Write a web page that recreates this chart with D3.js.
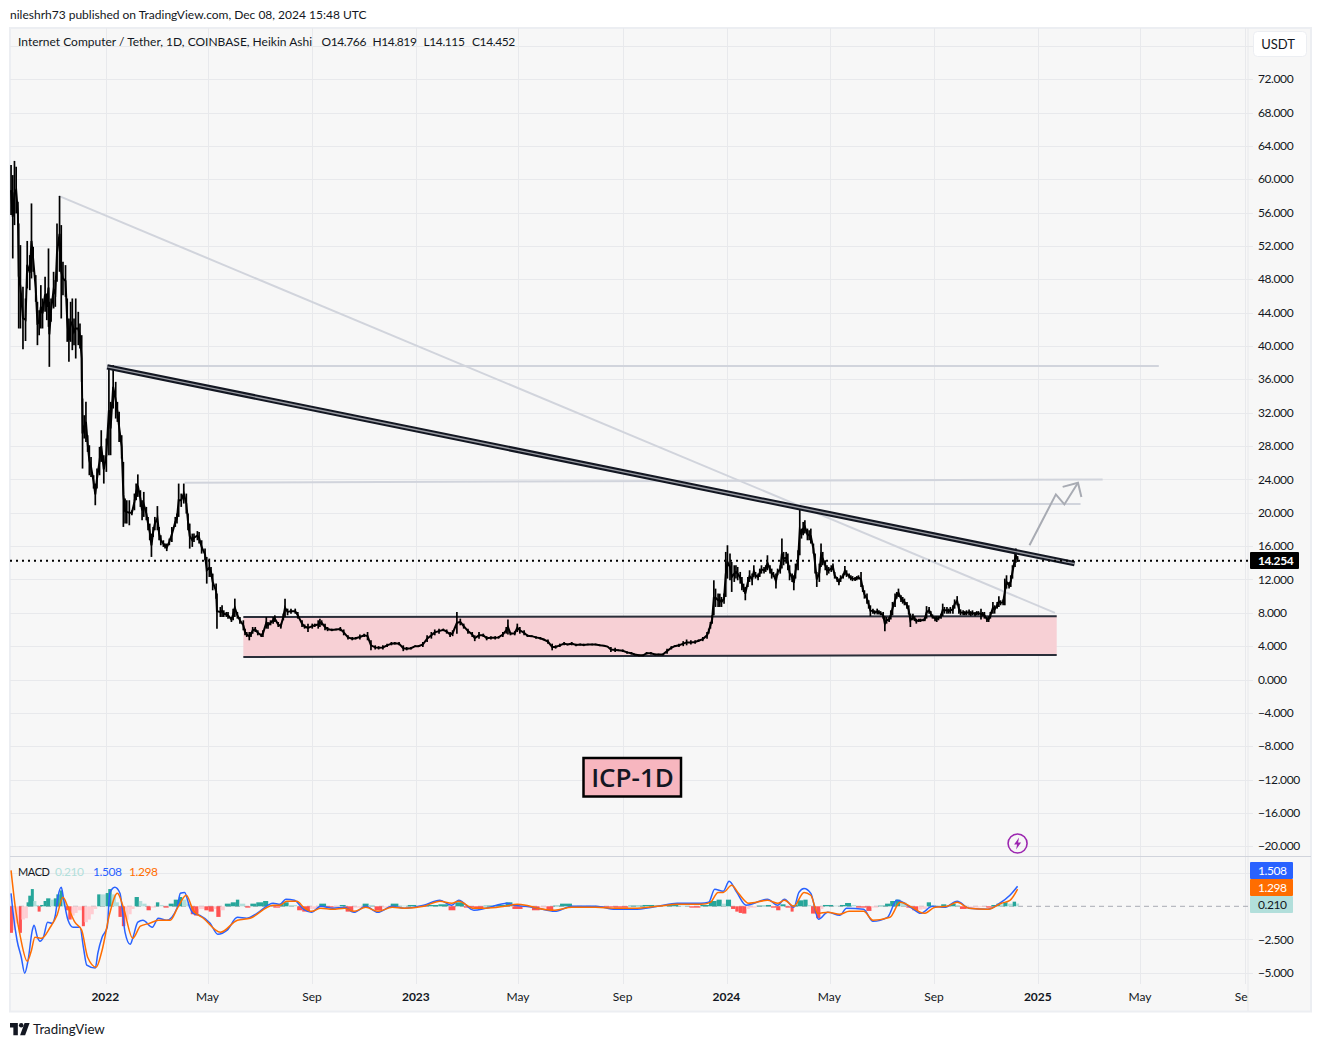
<!DOCTYPE html>
<html>
<head>
<meta charset="utf-8">
<title>ICP-1D</title>
<script src="https://cdn.jsdelivr.net/npm/d3@7"></script>
<style>
    html, body { margin: 0; padding: 0; background: #fff; }
    svg { display: block; }
    text { font-family: Lato, "Noto Sans", sans-serif; fill: #131722; }
    .num { letter-spacing: -0.4px; }
</style>
</head>
<body>
<div id="chart"></div>
<script>
    var width = 1321,
        height = 1047;

    // bars, days counted from barStart
    var barStart = '2021-09-12';
    var barDays = [
        0,2,4,6,8,9,11,14,17,19,22,24,26,29,31,33,35,37,40,42,
        44,45,47,50,52,54,57,59,61,64,66,68,70,72,74,76,79,81,83,84,
        86,88,90,92,94,97,99,101,104,106,109,112,115,117,120,123,125,127,130,132,
        134,136,139,142,145,147,149,152,154,156,159,161,163,165,167,169,172,174,176,179,
        181,183,186,189,193,195,197,200,203,206,208,210,213,215,219,221,224,228,230,233,
        235,237,241,242,246,248,250,253,255,259,261,263,266,269,273,275,277,280,282,284,
        287,290,294,296,300,302,305,308,310,314,317,320,322,325,329,334,337,342,345,349,
        354,357,361,363,365,369,372,377,382,387,391,396,401,405,410,415,419,423,428,432,
        437,442,447,451,456,461,465,470,475,479,484,489,494,498,503,508,512,516,519,524,
        528,532,537,542,545,550,555,559,564,569,573,578,582,584,587,592,595,598,603,607,
        612,617,622,626,631,636,640,645,650,654,659,664,669,673,678,683,687,692,697,701,
        705,710,714,719,724,729,733,738,743,747,752,757,761,766,771,776,780,785,790,794,
        799,804,808,813,818,820,822,824,826,828,831,833,835,838,840,842,845,847,850,852,
        854,857,859,861,863,866,868,871,873,875,878,880,882,885,887,889,892,894,896,899,
        901,904,906,908,911,913,915,918,920,922,925,927,929,931,933,936,938,940,943,945,
        947,950,952,954,957,959,961,964,966,968,971,973,975,978,980,982,985,987,989,992,
        994,996,999,1001,1003,1006,1008,1010,1013,1015,1018,1020,1022,1025,1027,1029,1032,1034,1036,1039,
        1041,1043,1046,1048,1050,1053,1055,1057,1060,1062,1064,1067,1069,1072,1074,1076,1079,1081,1083,1086,
        1088,1090,1093,1095,1097,1100,1102,1104,1107,1109,1112,1114,1116,1119,1121,1123,1126,1128,1130,1133,
        1135,1137,1140,1142,1144,1147,1149,1151,1154,1156,1159,1161,1163,1166,1168,1170,1173,1175,1177,1180,
        1181,1183
    ];
    var barHighs = [
        61.7,60.5,62.2,61.5,57.3,54.7,52.1,47.1,45.7,52.6,50.9,57.1,51.9,48.5,45.3,44.3,47.3,45.7,48.3,46.3,
        51.7,45.3,45.7,48.9,47.9,54.7,58.0,54.5,50.1,49.7,45.7,43.3,45.3,45.7,43.3,45.7,44.1,42.7,41.3,33.7,
        31.7,33.3,29.3,28.1,26.7,24.5,23.5,25.3,27.9,29.9,26.9,28.9,37.7,33.3,37.7,35.7,33.3,32.1,29.3,26.1,
        21.7,21.5,21.5,20.3,22.3,23.5,24.6,22.7,21.5,22.5,20.7,19.5,18.7,17.5,18.3,19.5,20.8,18.3,17.3,16.7,
        16.3,16.3,16.9,18.3,19.5,19.9,23.5,22.3,23.5,22.3,19.9,18.7,17.5,17.5,17.8,17.7,16.7,15.7,14.7,14.5,
        13.5,12.7,11.5,10.3,8.7,8.9,8.3,8.1,8.1,7.5,8.5,9.7,8.1,7.5,7.1,6.1,5.7,5.7,5.7,6.3,
        6.3,5.9,5.5,5.9,7.5,6.9,7.1,7.5,7.7,6.9,6.7,7.9,9.7,8.5,8.5,8.5,8.1,7.1,6.6,6.7,
        6.7,6.7,7.1,7.3,7.1,6.7,6.3,6.1,6.1,6.3,6.0,5.3,5.1,5.1,5.4,5.5,5.7,4.7,4.1,4.0,
        4.1,4.3,4.5,4.5,4.5,4.1,3.9,3.9,4.1,4.1,4.5,5.3,5.7,6.0,6.1,6.1,6.0,5.7,5.9,8.1,
        7.3,6.7,6.1,5.7,5.3,5.7,5.5,5.2,5.2,5.2,5.2,5.7,6.3,7.2,5.7,5.8,6.7,6.3,5.9,5.4,
        5.3,5.2,5.1,4.9,4.8,4.3,4.1,4.3,4.5,4.3,4.5,4.3,4.3,4.3,4.3,4.3,4.3,4.2,4.1,4.0,
        3.9,3.8,3.6,3.6,3.4,3.3,3.1,3.0,3.0,3.3,3.3,3.1,3.1,3.1,3.7,4.0,4.1,4.3,4.6,4.8,
        4.7,4.7,4.8,5.1,5.7,6.1,6.9,7.7,11.9,10.9,10.3,10.3,9.9,10.3,15.3,16.1,15.1,14.1,13.7,13.7,
        13.5,12.9,12.3,11.5,11.1,12.3,13.1,12.7,13.7,12.9,12.7,13.3,13.7,13.5,13.7,14.9,13.7,13.3,12.9,12.7,
        13.3,13.7,16.9,15.3,15.3,15.1,13.7,12.7,12.5,13.9,15.5,20.9,18.1,18.9,19.1,18.1,17.9,18.1,16.3,15.1,
        12.9,13.9,16.3,15.3,14.3,13.7,13.5,13.7,13.9,12.9,12.3,12.1,12.5,12.7,13.6,13.1,12.7,12.5,12.4,12.3,
        12.4,12.5,12.9,11.3,10.7,10.3,9.5,8.9,8.5,8.3,8.5,8.3,8.2,8.1,7.6,7.5,7.5,8.3,9.3,10.3,
        10.5,10.9,10.1,9.9,9.7,9.3,8.9,7.9,7.9,7.6,7.3,7.3,7.3,7.3,7.5,8.8,8.7,8.2,7.8,7.6,
        7.6,7.6,7.9,9.1,8.7,8.7,8.5,8.7,8.9,9.6,10.0,9.1,8.4,8.3,8.2,8.3,8.4,8.2,8.3,8.1,
        8.2,8.2,8.5,8.1,8.1,7.5,7.6,8.1,9.3,8.9,9.3,10.0,9.5,9.6,12.1,12.5,11.7,12.5,13.7,15.5,
        15.7,14.8
    ];
    var barLows = [
        55.7,50.5,54.5,55.9,54.7,42.1,42.1,39.6,40.6,46.9,46.7,48.1,48.9,45.3,40.1,41.3,42.1,42.1,44.1,43.1,
        42.3,37.5,42.9,44.5,44.7,47.7,48.9,43.3,46.1,45.9,40.5,38.1,40.5,39.5,40.1,38.5,40.1,39.7,35.7,25.3,
        28.9,28.5,27.3,24.5,24.3,22.9,20.9,22.9,24.5,26.1,23.5,24.9,26.9,26.9,32.5,31.3,30.9,28.5,26.5,18.3,
        18.7,18.7,18.5,19.7,20.3,21.5,21.9,20.7,19.1,19.5,19.1,17.9,16.7,14.7,17.1,17.9,17.9,16.7,16.1,15.9,
        15.7,15.4,16.1,16.5,18.3,18.7,19.5,20.7,21.1,19.9,17.9,15.7,15.9,16.5,16.7,16.3,15.1,14.3,11.5,12.3,
        12.3,10.7,9.7,6.1,7.5,7.5,7.5,7.5,7.3,6.9,7.1,7.5,7.3,6.7,5.9,5.3,5.1,4.7,5.1,5.5,
        5.7,5.3,5.1,5.1,6.1,6.1,6.5,6.7,6.9,6.3,6.1,7.1,7.5,7.7,7.9,7.9,7.3,6.3,6.1,5.7,
        6.1,6.3,6.1,6.3,6.5,5.9,5.8,5.8,5.9,5.8,5.3,4.8,4.7,4.8,4.8,5.1,4.7,3.5,3.6,3.6,
        3.6,3.9,4.1,4.2,4.1,3.4,3.5,3.6,3.9,3.9,3.9,4.5,4.9,5.3,5.5,5.8,5.5,5.1,5.2,5.5,
        6.5,6.1,5.5,5.1,4.6,4.9,5.1,4.7,4.8,4.8,4.9,5.1,5.5,5.4,5.3,5.3,5.7,5.5,5.3,5.1,
        5.1,4.9,4.8,4.7,4.3,3.5,3.7,3.9,4.1,4.1,4.1,4.0,4.1,4.0,4.1,4.1,4.1,4.0,4.0,3.9,
        3.3,3.3,3.4,3.3,3.1,3.0,2.9,2.8,2.8,3.0,3.0,2.9,2.9,2.9,3.1,3.6,3.9,3.9,4.0,4.1,
        4.2,4.3,4.5,4.6,4.9,5.5,6.1,6.7,7.7,8.7,8.7,8.7,8.7,9.1,9.9,12.1,11.9,10.5,11.7,12.1,
        11.9,11.5,10.7,10.5,9.5,11.1,11.7,11.3,12.3,12.1,11.9,12.3,12.7,12.7,12.9,13.1,12.7,12.1,12.3,10.9,
        12.5,12.7,13.3,13.7,13.9,13.1,11.9,11.7,10.7,12.1,13.1,14.9,16.9,17.3,17.5,16.7,16.7,16.3,15.1,12.7,
        11.1,11.7,13.5,13.7,13.1,12.5,12.7,12.9,13.1,12.1,11.7,11.3,11.7,12.1,12.5,12.3,12.1,11.9,11.8,11.8,
        11.9,12.0,11.1,10.5,9.7,9.1,8.5,7.6,7.9,7.8,7.8,7.8,7.7,7.3,5.8,6.7,6.9,7.2,7.7,8.7,
        9.7,9.9,9.3,9.1,8.9,8.5,7.8,6.3,7.1,7.0,6.7,6.9,6.9,7.0,7.0,7.3,7.9,7.6,7.3,7.0,
        6.9,7.1,7.3,7.6,7.9,7.9,7.9,7.9,7.9,8.5,8.9,7.9,7.7,7.7,7.7,7.7,7.7,7.6,7.7,7.6,
        7.7,7.7,7.2,7.6,7.3,6.9,6.9,7.3,7.9,7.9,8.5,8.7,8.9,8.9,8.9,10.9,10.9,11.1,12.1,13.5,
        14.0,14.1
    ];

    var macdDays = [
        0,2,7,12,16,20,25,27,31,34,38,43,48,52,55,59,62,67,73,81,
        85,89,99,102,107,113,116,122,128,134,140,143,149,155,166,173,183,195,199,204,
        210,214,222,234,243,254,266,277,289,308,316,323,333,344,353,364,378,392,403,417,
        431,448,462,485,504,518,526,544,558,583,591,605,619,639,659,687,710,732,760,783,
        811,820,827,837,844,853,864,889,901,909,920,926,932,940,949,960,974,982,1002,1013,
        1030,1041,1059,1069,1083,1097,1112,1126,1148,1162,1174,1183
    ];
    var macdValues = [
        0.98,-0.30,-2.56,-3.84,-5.04,-4.06,-1.80,-1.43,-2.33,-2.63,-2.33,-1.20,-1.28,-0.68,0.68,1.43,0.45,-1.05,-1.58,-1.58,
        -3.08,-4.44,-4.66,-3.53,-2.33,-1.58,0.98,1.43,0.98,-1.96,-2.86,-2.41,-1.20,-1.05,-1.58,-0.90,-1.05,-0.15,0.98,1.05,
        -0.08,-0.53,-0.68,-1.28,-2.11,-1.80,-0.83,-0.90,-0.53,0.23,0.15,0.53,0.45,-0.23,-0.45,0.0,-0.15,-0.08,-0.45,0.0,
        -0.45,0.0,-0.15,0.08,0.45,0.08,0.45,-0.30,-0.15,0.23,0.08,0.0,-0.15,-0.38,0.0,0.0,-0.23,-0.23,0.0,0.23,
        0.23,0.30,1.28,1.13,1.88,1.05,0.08,0.53,0.08,0.53,-0.08,1.05,1.35,0.98,-0.98,-0.45,-0.68,-0.15,-0.23,-1.13,
        -0.83,0.45,-0.15,-0.53,0.0,-0.08,0.38,-0.15,-0.23,0.23,0.83,1.508
    ];
    var signalDays = [
        0,5,11,19,24,28,36,46,54,61,67,75,83,90,100,107,116,125,132,143,
        152,163,173,187,196,206,214,226,246,266,281,308,316,324,336,344,353,364,378,392,
        403,417,431,448,462,485,504,518,526,544,558,580,595,605,619,639,659,687,710,732,
        760,783,811,822,831,837,847,855,867,889,901,909,920,932,940,948,960,974,985,1002,
        1013,1033,1045,1059,1073,1086,1100,1112,1126,1148,1164,1174,1183
    ];
    var signalValues = [
        2.71,-0.08,-2.33,-4.14,-3.31,-2.33,-2.41,-1.58,-0.68,0.68,-0.08,-1.20,-1.80,-3.84,-4.59,-3.31,-0.53,0.98,-0.08,-2.41,
        -1.50,-1.28,-1.05,-1.05,-0.08,0.83,-0.30,-0.90,-1.96,-1.05,-0.90,0.08,0.08,0.38,0.38,-0.08,-0.38,-0.15,-0.23,-0.15,
        -0.38,-0.08,-0.38,-0.08,-0.15,0.0,0.38,0.23,0.38,-0.15,-0.15,0.0,0.15,0.08,-0.15,-0.30,-0.08,-0.08,-0.15,-0.15,
        0.0,0.15,0.15,0.30,1.05,1.05,1.58,0.98,0.23,0.45,0.23,0.45,0.0,1.05,0.83,-0.53,-0.45,-0.60,-0.38,-0.38,
        -1.05,-0.83,0.30,-0.08,-0.53,-0.08,0.0,0.30,-0.15,-0.23,0.23,0.45,1.298
    ];
    var histDays = [
        0,4,7,11,14,18,20,22,25,28,31,33,36,40,43,48,52,55,59,62,
        66,69,73,76,80,85,88,92,95,99,103,107,113,116,120,125,128,132,136,140,
        143,147,152,156,161,166,172,176,181,187,193,199,203,208,213,217,222,229,234,240,
        243,248,253,260,266,270,277,283,290,298,304,310,318,322,328,338,344,353,364,372,
        381,388,395,404,415,422,429,438,448,457,468,478,490,504,516,524,534,546,557,569,
        583,591,603,614,623,631,639,647,661,676,692,710,727,744,758,772,786,799,812,822,
        831,837,842,848,853,857,861,866,870,878,889,895,901,906,912,918,921,926,933,938,
        942,948,953,956,968,976,982,989,995,1007,1013,1021,1029,1035,1041,1047,1054,1061,1068,1073,
        1078,1083,1089,1095,1101,1106,1112,1117,1125,1132,1140,1148,1154,1160,1164,1168,1173,1179,1183
    ];
    var histValues = [
        -2.0,-1.8,-1.3,-2.0,-1.0,-0.9,0.3,0.8,1.3,0.4,0.1,-0.4,0.1,0.4,0.6,0.5,0.6,0.9,1.2,0.5,
        -0.3,-1.0,-0.7,-0.5,-0.3,-1.5,-1.2,-1.0,-0.6,-0.2,0.9,0.9,1.0,1.3,0.9,0.3,-0.8,-1.5,-1.0,-0.6,
        -0.2,0.7,0.4,0.2,-0.3,-0.1,0.3,0.1,-0.1,0.2,0.5,0.7,0.5,0.2,-0.6,-0.7,-0.2,-0.3,-0.4,-0.2,
        -0.8,-0.3,0.2,0.3,0.5,0.2,-0.1,0.2,0.3,0.4,0.1,-0.1,0.2,0.3,0.1,-0.3,-0.4,-0.2,0.2,-0.1,
        -0.1,0.1,-0.4,-0.1,0.2,0.1,-0.3,-0.1,0.2,0.05,0.1,-0.05,0.1,0.15,-0.3,0.3,-0.1,-0.2,0.05,0.1,
        0.3,-0.2,-0.1,-0.3,-0.1,-0.3,0.05,0.2,0.05,0.05,-0.05,-0.1,0.05,0.1,0.1,0.15,0.05,-0.1,0.1,0.4,
        0.5,0.2,0.5,-0.2,-0.4,-0.5,-0.55,-0.2,-0.1,0.05,0.1,-0.1,-0.3,0.15,-0.1,-0.4,0.1,0.45,0.5,0.1,
        -0.55,-0.9,-0.2,0.1,0.05,0.1,0.25,0.1,-0.1,-0.35,-0.1,0.05,0.2,0.4,0.5,0.3,-0.1,-0.3,-0.25,-0.2,
        0.3,0.1,0.05,0.15,0.1,0.2,0.1,-0.2,-0.15,-0.1,-0.05,-0.1,0.1,0.2,0.15,0.3,0.2,0.35,0.21
    ];

    var priceTicks = [72, 68, 64, 60, 56, 52, 48, 44, 40, 36, 32, 28, 24, 20, 16, 12, 8, 4, 0, -4, -8, -12, -16, -20];
    var priceGrid = [76].concat(priceTicks);
    var macdTicks = [-2.5, -5];
    var macdGrid = [2.5, -2.5, -5];
    var timeTicks = ['2022-01-01', '2022-05-01', '2022-09-01', '2023-01-01', '2023-05-01', '2023-09-01',
        '2024-01-01', '2024-05-01', '2024-09-01', '2025-01-01', '2025-05-01', '2025-09-01'];
    var timeLabels = ['2022', 'May', 'Sep', '2023', 'May', 'Sep', '2024', 'May', 'Sep', '2025', 'May', 'Sep'];

    var lastPrice = 14.254;
    var macdLast = 1.508, signalLast = 1.298, histLast = 0.21;
    var ohlcLabels = ['O14.766', 'H14.819', 'L14.115', 'C14.452'];
    var ohlcAt = [321.5, 372.5, 423.5, 472];

    // drawings on the chart
    var resistanceLine = [['2022-01-03', 37.5], ['2025-02-13', 13.9]];
    var fallingLine = [['2021-11-07', 58.0], ['2025-01-21', 8.0]];
    var levelLines = [
        [['2022-01-03', 37.6], ['2025-05-23', 37.6]],
        [['2022-04-04', 23.6], ['2025-03-18', 24.0]],
        [['2024-03-27', 21.05], ['2025-02-20', 21.05]]
    ];
    var zoneCorners = [['2022-06-12', 7.5], ['2025-01-23', 7.6], ['2025-01-23', 2.95], ['2022-06-12', 2.7]];
    var arrowPath = [['2024-12-22', 16.1], ['2025-01-22', 22.2], ['2025-02-01', 21.0], ['2025-02-17', 23.6]];
    var arrowHead = [['2025-01-30', 23.1], ['2025-02-17', 23.6], ['2025-02-21', 21.9]];

    var plotLeft = 10, plotRight = 1248,
        mainTop = 28, mainBottom = 856,
        macdBottom = 985;

    var parseDay = d3.utcParse('%Y-%m-%d');
    var startDay = parseDay(barStart);

    function dayDate(d) {
        return d3.utcDay.offset(startDay, d);
    }

    var x = d3.scaleUtc()
        .domain([parseDay('2022-01-01'), parseDay('2025-01-01')])
        .range([105.5, 1038]);

    var y = d3.scaleLinear().domain([0, 72]).range([679.5, 79.2]);
    var yMacd = d3.scaleLinear().domain([0, -5]).range([906.3, 972.6]);

    var svg = d3.select('#chart')
        .append('svg')
        .attr('width', width)
        .attr('height', height);

    var defs = svg.append('defs');

    defs.append('clipPath')
        .attr('id', 'main-clip')
        .append('rect')
        .attr('x', plotLeft).attr('y', mainTop)
        .attr('width', plotRight - plotLeft).attr('height', mainBottom - mainTop);

    defs.append('clipPath')
        .attr('id', 'macd-clip')
        .append('rect')
        .attr('x', plotLeft).attr('y', mainBottom)
        .attr('width', plotRight - plotLeft).attr('height', macdBottom - mainBottom);

    defs.append('clipPath')
        .attr('id', 'time-clip')
        .append('rect')
        .attr('x', plotLeft).attr('y', macdBottom)
        .attr('width', plotRight - plotLeft).attr('height', 27);

    // panel
    svg.append('rect')
        .attr('x', 10).attr('y', 28)
        .attr('width', 1301).attr('height', 983.5)
        .attr('fill', '#f7f7f7')
        .attr('stroke', '#eceef2')
        .attr('stroke-width', 2);

    // grid
    var grid = svg.append('g').attr('stroke', '#e8e9ec').attr('stroke-width', 1).attr('shape-rendering', 'crispEdges');

    grid.selectAll('.v')
        .data(timeTicks)
        .enter()
        .append('line')
        .attr('x1', function (d) { return Math.round(x(parseDay(d))); })
        .attr('x2', function (d) { return Math.round(x(parseDay(d))); })
        .attr('y1', mainTop)
        .attr('y2', macdBottom - 1);

    grid.selectAll('.h')
        .data(priceGrid)
        .enter()
        .append('line')
        .attr('x1', plotLeft).attr('x2', plotRight + 5)
        .attr('y1', function (d) { return Math.round(y(d)); })
        .attr('y2', function (d) { return Math.round(y(d)); });

    grid.selectAll('.m')
        .data(macdGrid)
        .enter()
        .append('line')
        .attr('x1', plotLeft).attr('x2', plotRight + 5)
        .attr('y1', function (d) { return Math.round(yMacd(d)); })
        .attr('y2', function (d) { return Math.round(yMacd(d)); });

    // pane edges
    svg.append('line')
        .attr('x1', plotRight).attr('x2', plotRight)
        .attr('y1', mainTop).attr('y2', 1011)
        .attr('stroke', '#e8e9ec');

    svg.append('line')
        .attr('x1', plotLeft).attr('x2', 1311)
        .attr('y1', mainBottom + 0.5).attr('y2', mainBottom + 0.5)
        .attr('stroke', '#d1d4dc');

    var main = svg.append('g').attr('clip-path', 'url(#main-clip)');

    function pointX(d) { return x(parseDay(d[0])); }
    function pointY(d) { return y(d[1]); }

    var drawLine = d3.line().x(pointX).y(pointY);

    // pink zone with dark edges
    main.append('path')
        .attr('d', drawLine(zoneCorners) + 'Z')
        .attr('fill', '#f7d0d5');

    main.selectAll('.zone-edge')
        .data([zoneCorners.slice(0, 2), zoneCorners.slice(2, 4)])
        .enter()
        .append('path')
        .attr('d', drawLine)
        .attr('fill', 'none')
        .attr('stroke', '#2a2e39')
        .attr('stroke-width', 2);

    // light drawings
    main.selectAll('.level')
        .data(levelLines.concat([fallingLine]))
        .enter()
        .append('path')
        .attr('d', drawLine)
        .attr('fill', 'none')
        .attr('stroke', '#d1d4dc')
        .attr('stroke-width', 2);

    // price: a line through the bars, then high-low wicks
    var bars = barDays.map(function (d, i) {
        return { date: dayDate(d), high: barHighs[i], low: barLows[i] };
    });

    main.append('path')
        .datum(bars)
        .attr('d', d3.line()
            .x(function (d) { return x(d.date); })
            .y(function (d) { return y((d.high + d.low) / 2); }))
        .attr('fill', 'none')
        .attr('stroke', '#000')
        .attr('stroke-width', 2);

    main.selectAll('.wick')
        .data(bars)
        .enter()
        .append('line')
        .attr('class', 'wick')
        .attr('x1', function (d) { return x(d.date); })
        .attr('x2', function (d) { return x(d.date); })
        .attr('y1', function (d) { return y(d.high); })
        .attr('y2', function (d) { return y(d.low); })
        .attr('stroke', '#000')
        .attr('stroke-width', 1.7);

    // thick resistance: dark line with a light core
    main.append('path')
        .attr('d', drawLine(resistanceLine))
        .attr('stroke', '#131722')
        .attr('stroke-width', 5.5)
        .attr('fill', 'none');
    main.append('path')
        .attr('d', drawLine(resistanceLine))
        .attr('stroke', '#9a9ca3')
        .attr('stroke-width', 1.4)
        .attr('fill', 'none');

    // target arrow
    main.selectAll('.arrow')
        .data([arrowPath, arrowHead])
        .enter()
        .append('path')
        .attr('d', drawLine)
        .attr('fill', 'none')
        .attr('stroke', '#a8abb3')
        .attr('stroke-width', 2);

    // last price line
    main.append('line')
        .attr('x1', plotLeft).attr('x2', plotRight)
        .attr('y1', y(lastPrice)).attr('y2', y(lastPrice))
        .attr('stroke', '#000')
        .attr('stroke-width', 2)
        .attr('stroke-dasharray', '2 4');

    // MACD pane
    var macdPane = svg.append('g').attr('clip-path', 'url(#macd-clip)');

    macdPane.append('line')
        .attr('x1', plotLeft).attr('x2', plotRight)
        .attr('y1', yMacd(0)).attr('y2', yMacd(0))
        .attr('stroke', '#a8abb3')
        .attr('stroke-dasharray', '5 4');

    macdPane.selectAll('.hist')
        .data(histValues)
        .enter()
        .append('rect')
        .attr('x', function (d, i) { return x(dayDate(histDays[i])) - 1.5; })
        .attr('y', function (d) { return yMacd(Math.max(d, 0)); })
        .attr('width', function (d, i) {
            var next = i < histDays.length - 1 ? histDays[i + 1] : histDays[i] + 2;
            return Math.max(3, x(dayDate(next)) - x(dayDate(histDays[i])));
        })
        .attr('height', function (d) { return Math.abs(yMacd(d) - yMacd(0)); })
        .attr('fill', function (d, i) {
            var prev = i > 0 ? histValues[i - 1] : 0;
            if (d >= 0)
                return d > prev ? '#26a69a' : '#b2dfdb';
            else
                return d < prev ? '#ff5252' : '#ffcdd2';
        });

    function macdLine(days, values, color) {
        macdPane.append('path')
            .datum(values)
            .attr('d', d3.line()
                .curve(d3.curveMonotoneX)
                .x(function (d, i) { return x(dayDate(days[i])); })
                .y(function (d) { return yMacd(d); }))
            .attr('fill', 'none')
            .attr('stroke', color)
            .attr('stroke-width', 1.5);
    }

    macdLine(macdDays, macdValues, '#2962ff');
    macdLine(signalDays, signalValues, '#ff6d00');

    // axes
    var priceAxis = d3.axisRight(y)
        .tickValues(priceTicks)
        .tickFormat(d3.format('.3f'))
        .tickSize(0)
        .tickPadding(10);

    svg.append('g')
        .attr('transform', 'translate(' + plotRight + ',-0.2)')
        .call(priceAxis)
        .call(function (g) { g.select('.domain').remove(); })
        .selectAll('text')
        .attr('class', 'num')
        .attr('font-size', 12);

    var macdAxis = d3.axisRight(yMacd)
        .tickValues(macdTicks)
        .tickFormat(d3.format('.3f'))
        .tickSize(0)
        .tickPadding(10);

    svg.append('g')
        .attr('transform', 'translate(' + plotRight + ',-0.2)')
        .call(macdAxis)
        .call(function (g) { g.select('.domain').remove(); })
        .selectAll('text')
        .attr('class', 'num')
        .attr('font-size', 12);

    var timeAxis = d3.axisBottom(x)
        .tickValues(timeTicks.map(parseDay))
        .tickFormat(function (d, i) { return timeLabels[i]; })
        .tickSize(0)
        .tickPadding(7);

    svg.append('g')
        .attr('clip-path', 'url(#time-clip)')
        .append('g')
        .attr('transform', 'translate(-0.7,' + macdBottom + ')')
        .call(timeAxis)
        .call(function (g) { g.select('.domain').remove(); })
        .selectAll('text')
        .attr('font-size', 12)
        .attr('font-weight', function (d, i) { return /^\d/.test(timeLabels[i]) ? 700 : 400; });

    // labels on the price scale
    function scaleLabel(top, bottom, w, fill, textFill, label, bold) {
        svg.append('rect')
            .attr('x', plotRight + 2).attr('y', top)
            .attr('width', w).attr('height', bottom - top)
            .attr('rx', 1)
            .attr('fill', fill);
        svg.append('text')
            .attr('class', 'num')
            .attr('x', plotRight + 10).attr('y', (top + bottom) / 2 + 4)
            .attr('font-size', 12)
            .attr('font-weight', bold ? 700 : 400)
            .style('fill', textFill)
            .text(label);
    }

    var lastY = Math.round(y(lastPrice));
    scaleLabel(lastY - 9, lastY + 8, 49, '#000', '#fff', d3.format('.3f')(lastPrice), true);
    scaleLabel(862, 879, 43, '#2962ff', '#fff', d3.format('.3f')(macdLast), false);
    scaleLabel(879, 896, 43, '#ff6d00', '#fff', d3.format('.3f')(signalLast), false);
    scaleLabel(896, 913, 43, '#b2dfdb', '#131722', d3.format('.3f')(histLast), false);

    // currency button
    svg.append('rect')
        .attr('x', 1253.5).attr('y', 31.5)
        .attr('width', 53).attr('height', 25)
        .attr('rx', 4)
        .attr('fill', '#fff')
        .attr('stroke', '#eceef2');
    svg.append('text')
        .attr('x', 1278).attr('y', 49)
        .attr('text-anchor', 'middle')
        .attr('font-size', 13)
        .text('USDT');

    // header and legends
    svg.append('text')
        .attr('x', 10).attr('y', 19)
        .attr('font-size', 12)
        .text('nileshrh73 published on TradingView.com, Dec 08, 2024 15:48 UTC');

    svg.append('text')
        .attr('x', 18).attr('y', 46)
        .attr('font-size', 12)
        .text('Internet Computer / Tether, 1D, COINBASE, Heikin Ashi');

    svg.selectAll('.ohlc')
        .data(ohlcLabels)
        .enter()
        .append('text')
        .attr('class', 'num')
        .attr('x', function (d, i) { return ohlcAt[i]; })
        .attr('y', 46)
        .attr('font-size', 12)
        .text(function (d) { return d; });

    var macdLegend = [
        { label: 'MACD', at: 18, color: '#131722', size: 11 },
        { label: d3.format('.3f')(histLast), at: 55, color: '#b2dfdb', size: 12 },
        { label: d3.format('.3f')(macdLast), at: 93, color: '#2962ff', size: 12 },
        { label: d3.format('.3f')(signalLast), at: 129, color: '#ff6d00', size: 12 }
    ];

    svg.selectAll('.macd-legend')
        .data(macdLegend)
        .enter()
        .append('text')
        .attr('class', 'num')
        .attr('x', function (d) { return d.at; })
        .attr('y', 875.5)
        .attr('font-size', function (d) { return d.size; })
        .style('fill', function (d) { return d.color; })
        .text(function (d) { return d.label; });

    // ICP-1D box
    svg.append('rect')
        .attr('x', 583.5).attr('y', 758)
        .attr('width', 97.5).attr('height', 38.5)
        .attr('fill', '#f7b6bf')
        .attr('stroke', '#000')
        .attr('stroke-width', 2.5);
    svg.append('text')
        .attr('x', 632.5).attr('y', 787)
        .attr('text-anchor', 'middle')
        .attr('font-size', 26)
        .attr('font-weight', 600)
        .style('font-family', '"Open Sans", sans-serif')
        .text('ICP-1D');

    // purple bolt
    var bolt = svg.append('g')
        .attr('transform', 'translate(' + x(dayDate(barDays[barDays.length - 1])) + ',843.5)');
    bolt.append('circle')
        .attr('r', 9.5)
        .attr('fill', 'none')
        .attr('stroke', '#9c27b0')
        .attr('stroke-width', 1.6);
    bolt.append('path')
        .attr('d', 'M1.5,-6 L-3.5,1 L-0.5,1 L-1.5,6 L3.5,-1 L0.5,-1 Z')
        .attr('fill', '#9c27b0');

    // TradingView mark
    var logo = svg.append('g').attr('transform', 'translate(10,1023) scale(0.56)');
    logo.append('path').attr('d', 'M14 0H0v8h6v14h8z').attr('fill', '#131722');
    logo.append('circle').attr('cx', 20).attr('cy', 4).attr('r', 4).attr('fill', '#131722');
    logo.append('path').attr('d', 'M26 0h9l-8 22h-9z').attr('fill', '#131722');

    svg.append('text')
        .attr('x', 33).attr('y', 1034)
        .attr('font-size', 13.3)
        .text('TradingView');
</script>
</body>
</html>
